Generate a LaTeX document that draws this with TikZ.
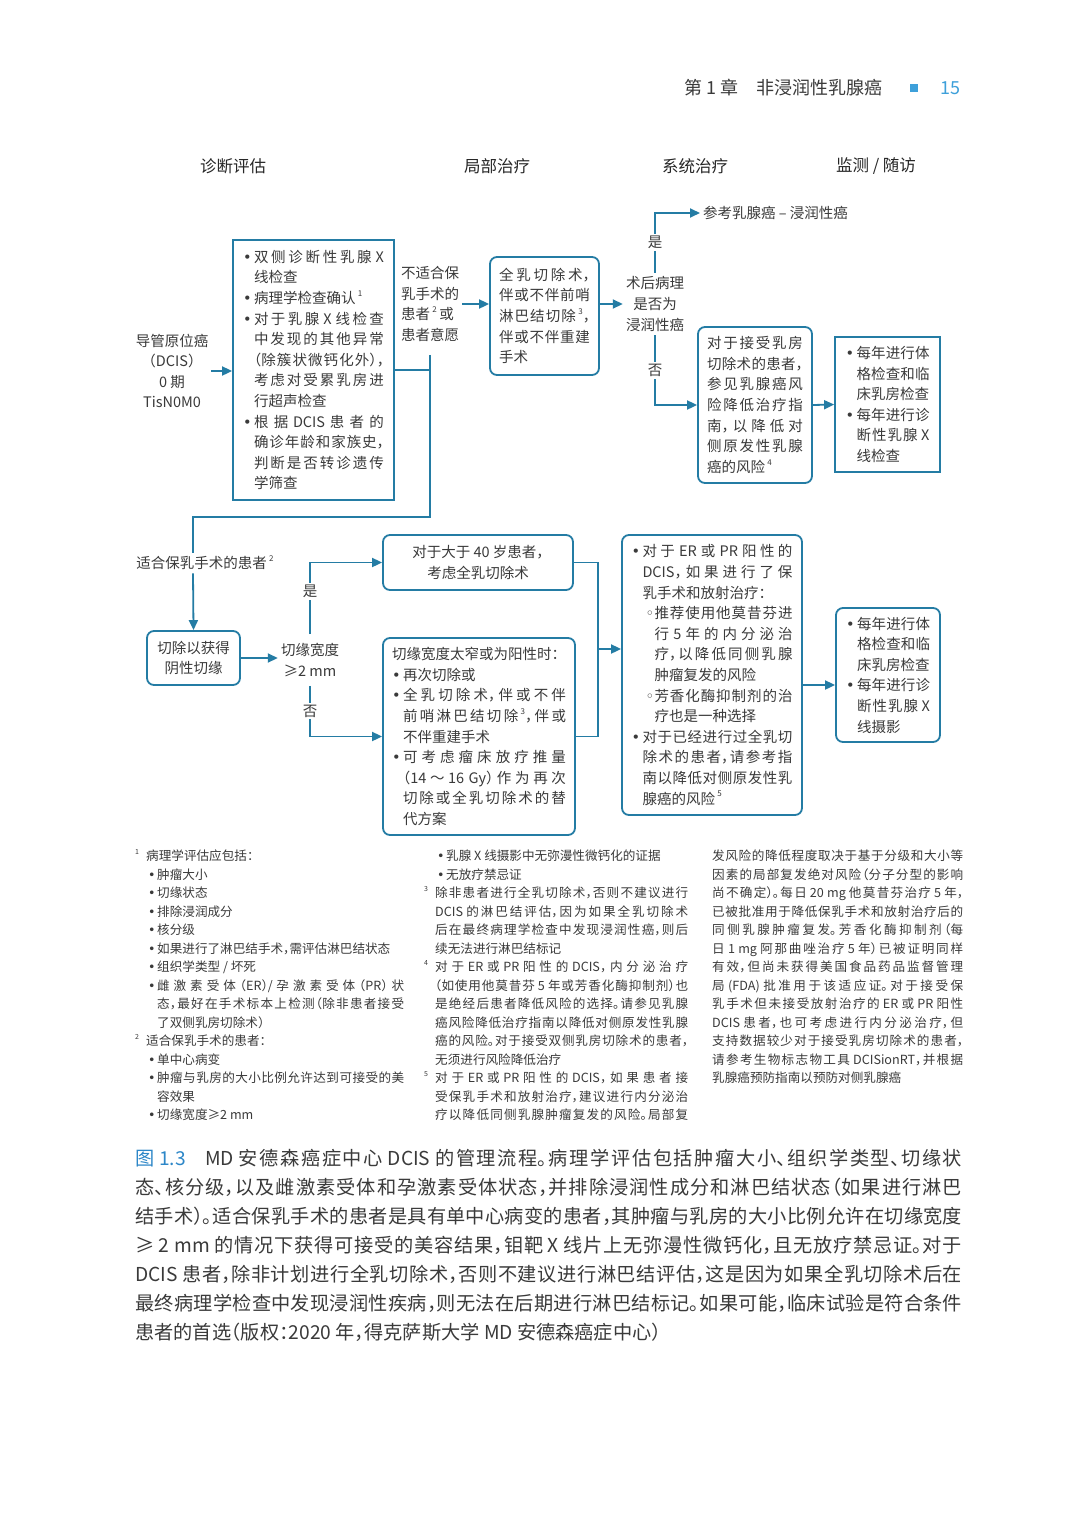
\documentclass[tikz,border=0pt]{standalone}
\usepackage{fontspec}
\setmainfont{Noto Sans CJK SC}[RawFeature={+halt}]
\newfontfamily\symf{DejaVu Sans}
\usepackage{tikz}
\usetikzlibrary{arrows.meta}
\definecolor{flowblue}{RGB}{36,124,164}
\definecolor{pageblue}{RGB}{62,160,218}
\definecolor{capblue}{RGB}{45,135,200}
\definecolor{inkgray}{RGB}{58,58,58}
\XeTeXlinebreaklocale "zh"
\XeTeXlinebreakskip=0pt plus 6pt minus 1pt
\XeTeXlinebreakpenalty=10000
\newcommand\hdrfs{\fontsize{18pt}{22pt}\selectfont}
\newcommand\colfs{\fontsize{16.5pt}{20pt}\selectfont}
\newcommand\boxfs{\fontsize{14.5pt}{20.6pt}\selectfont}
\newcommand\notefs{\fontsize{12.6pt}{18.5pt}\selectfont}
\newcommand\capfs{\fontsize{19.2pt}{29pt}\selectfont}
\newcommand\jbr{\linebreak}
\newcommand\fnm[1]{\,\raisebox{0.5em}{\fontsize{8pt}{8pt}\selectfont #1}}
\newcommand\bulhead{\hangindent=11pt\hangafter=1\makebox[11pt][l]{\symf •}}
\newcommand\bul{\par\noindent\bulhead}
\newcommand\subbul{\par\noindent\hangindent=23pt\hangafter=1\hspace*{14pt}\makebox[9pt][l]{\symf ◦}}
\newcommand\fnumhead[1]{\hangindent=11pt\hangafter=1\makebox[11pt][l]{\raisebox{0.5em}{\fontsize{7pt}{7pt}\selectfont #1}}}
\newcommand\fnum[1]{\par\noindent\fnumhead{#1}}
\newcommand\fbulhead{\hangindent=22pt\hangafter=1\hspace*{13pt}\makebox[9pt][l]{\symf •}}
\newcommand\fbul{\par\noindent\fbulhead}

\begin{document}
\begin{tikzpicture}[x=1pt, y=-1pt, >={Triangle[length=10pt,width=9pt]},
  every node/.style={text=inkgray},
  conn/.style={draw=flowblue, line width=1.8pt},
  arr/.style={conn, ->},
  flowtxt/.style={font=\boxfs, inner sep=3pt, align=center},
  sqbox/.style={draw=flowblue, line width=1.8pt, font=\boxfs, inner sep=0pt, align=justify},
  rdbox/.style={sqbox, rounded corners=7pt},
  yn/.style={font=\boxfs, fill=white, inner sep=2pt},
  notetxt/.style={font=\notefs, inner sep=0pt, align=justify, anchor=base west},
  colhead/.style={font=\colfs, text=black!85}]
\fill[white] (0,0) rectangle (1080,1518);
\useasboundingbox (0,0) rectangle (1080,1518);

\node[font=\hdrfs, anchor=west] (chap) at (681,88) {第 1 章\hspace{1em}非浸润性乳腺癌};
\node[fill=pageblue, minimum size=8pt, inner sep=0pt] (pgmark) at (914,88) {};
\node[font=\hdrfs, text=pageblue, anchor=west] (pgnum) at (937,88) {15};

\foreach \cx/\ct [count=\i] in {233/诊断评估, 497/局部治疗, 695/系统治疗, 876/{监测 / 随访}}
  \node[colhead] (head\i) at (\cx,166) {\ct};

\node[flowtxt] (dcis) at (172,371) {导管原位癌\\（DCIS）\\0 期\\TisN0M0};
\node[sqbox, minimum width=161pt, minimum height=260pt, text width=141pt] (workup) at (313.5,370) {\bulhead 双侧诊断性乳腺 X\jbr 线检查
\bul 病理学检查确认\fnm{1}
\bul 对于乳腺 X 线检查\jbr 中发现的其他异常\jbr （除簇状微钙化外），\jbr 考虑对受累乳房进\jbr 行超声检查
\bul 根据 DCIS 患者的\jbr 确诊年龄和家族史，\jbr 判断是否转诊遗传\jbr 学筛查\par};
\node[flowtxt, align=left] (unfit) at (430,304) {不适合保\\乳手术的\\患者\fnm{2}\,或\\患者意愿};
\node[rdbox, minimum width=109pt, minimum height=118pt, text width=91pt] (mast) at (544.5,316) {全乳切除术，\jbr 伴或不伴前哨\jbr 淋巴结切除\fnm{3}，\jbr 伴或不伴重建\jbr 手术\par};
\node[flowtxt, inner ysep=4pt] (inv) at (655,304) {术后病理\\是否为\\浸润性癌};
\node[flowtxt, anchor=west] (invref) at (700,213) {参考乳腺癌 – 浸润性癌};
\node[rdbox, minimum width=114pt, minimum height=156pt, text width=96pt] (riskred) at (755,405) {对于接受乳房\jbr 切除术的患者，\jbr 参见乳腺癌风\jbr 险降低治疗指\jbr 南，以降低对\jbr 侧原发性乳腺\jbr 癌的风险\fnm{4}\par};
\node[sqbox, minimum width=105pt, minimum height=135pt, text width=84pt] (follow) at (887.5,404.5) {\bulhead 每年进行体\jbr 格检查和临\jbr 床乳房检查
\bul 每年进行诊\jbr 断性乳腺 X\jbr 线检查\par};

\node[flowtxt] (fitlbl) at (205,563) {适合保乳手术的患者\fnm{2}};
\node[rdbox, align=center, minimum width=93pt, minimum height=54pt] (excise) at (193.5,658) {切除以获得\\阴性切缘};
\node[flowtxt, inner ysep=9pt] (margin) at (310,660) {切缘宽度\\≥2 mm};
\node[rdbox, align=center, minimum width=190pt, minimum height=55pt] (over40) at (478,562.5) {对于大于 40 岁患者，\\考虑全乳切除术};
\node[rdbox, minimum width=192pt, minimum height=197pt, text width=174pt] (reexc) at (479,736.5) {切缘宽度太窄或为阳性时：
\bul 再次切除或
\bul 全乳切除术，伴或不伴\jbr 前哨淋巴结切除\fnm{3}，伴或\jbr 不伴重建手术
\bul 可考虑瘤床放疗推量\jbr （14～16 Gy）作为再次\jbr 切除或全乳切除术的替\jbr 代方案\par};
\node[rdbox, minimum width=180pt, minimum height=280pt, text width=161pt] (endo) at (712,675) {\bulhead 对于 ER 或 PR 阳性的\jbr DCIS，如果进行了保\jbr 乳手术和放射治疗：
\subbul 推荐使用他莫昔芬进\jbr 行 5 年的内分泌治\jbr 疗，以降低同侧乳腺\jbr 肿瘤复发的风险
\subbul 芳香化酶抑制剂的治\jbr 疗也是一种选择
\bul 对于已经进行过全乳切\jbr 除术的患者，请参考指\jbr 南以降低对侧原发性乳\jbr 腺癌的风险\fnm{5}\par};
\node[rdbox, minimum width=104pt, minimum height=134pt, text width=84pt] (follow2) at (888,675) {\bulhead 每年进行体\jbr 格检查和临\jbr 床乳房检查
\bul 每年进行诊\jbr 断性乳腺 X\jbr 线摄影\par};

\coordinate (turnr) at (430,517);
\coordinate (turnl) at (193,517);
\coordinate (merge) at (598,649);
\draw[arr] (dcis.east) -- (dcis.east -| workup.west);
\draw[conn] (workup.east) -- (workup.east -| unfit.south);
\draw[conn, shorten <=10pt] (unfit.south) -- (turnr) -- (turnl) -- (turnl |- fitlbl.north);
\draw[arr] (fitlbl.south -| turnl) -- (excise.north);
\draw[arr] (unfit.east) -- (unfit.east -| mast.west);
\draw[arr] (mast.east |- inv.west) -- (inv.west);
\draw[arr] (inv.north) -- node[yn]{是} (inv.north |- invref.west) -- (invref.west);
\draw[arr] (inv.south) -- node[yn]{否} (inv.south |- riskred.west) -- (riskred.west);
\draw[arr] (riskred.east) -- (follow.west);
\draw[arr] (excise.east) -- (excise.east -| margin.west);
\draw[arr] (margin.north) -- node[yn, pos=0.6]{是} (margin.north |- over40.west) -- (over40.west);
\draw[arr] (margin.south) -- node[yn]{否} (margin.south |- reexc.west) -- (reexc.west);
\draw[conn] (over40.east) -| (merge) |- (reexc.east);
\draw[arr] (merge) -- (merge -| endo.west);
\draw[arr] ([yshift=-10pt]endo.east) -- ([yshift=-10pt]follow2.west);

\node[notetxt, text width=269pt] (notes1) at (135,860.5) {\fnumhead{1}病理学评估应包括：
\fbul 肿瘤大小
\fbul 切缘状态
\fbul 排除浸润成分
\fbul 核分级
\fbul 如果进行了淋巴结手术，需评估淋巴结状态
\fbul 组织学类型 / 坏死
\fbul 雌激素受体（ER）/ 孕激素受体（PR）状\jbr 态，最好在手术标本上检测（除非患者接受\jbr 了双侧乳房切除术）
\fnum{2}适合保乳手术的患者：
\fbul 单中心病变
\fbul 肿瘤与乳房的大小比例允许达到可接受的美\jbr 容效果
\fbul 切缘宽度≥2 mm\par};
\node[notetxt, text width=264pt] (notes2) at (424,860.5) {\fbulhead 乳腺 X 线摄影中无弥漫性微钙化的证据
\fbul 无放疗禁忌证
\fnum{3}除非患者进行全乳切除术，否则不建议进行\jbr DCIS 的淋巴结评估，因为如果全乳切除术\jbr 后在最终病理学检查中发现浸润性癌，则后\jbr 续无法进行淋巴结标记
\fnum{4}对于 ER 或 PR 阳性的 DCIS，内分泌治疗\jbr （如使用他莫昔芬 5 年或芳香化酶抑制剂）也\jbr 是绝经后患者降低风险的选择。请参见乳腺\jbr 癌风险降低治疗指南以降低对侧原发性乳腺\jbr 癌的风险。对于接受双侧乳房切除术的患者，\jbr 无须进行风险降低治疗
\fnum{5}对于 ER 或 PR 阳性的 DCIS，如果患者接\jbr 受保乳手术和放射治疗，建议进行内分泌治\jbr 疗以降低同侧乳腺肿瘤复发的风险。局部复\parfillskip=0pt\par};
\node[notetxt, text width=251pt] (notes3) at (712,860.5) {发风险的降低程度取决于基于分级和大小等\jbr 因素的局部复发绝对风险（分子分型的影响\jbr 尚不确定）。每日 20 mg 他莫昔芬治疗 5 年，\jbr 已被批准用于降低保乳手术和放射治疗后的\jbr 同侧乳腺肿瘤复发。芳香化酶抑制剂（每\jbr 日 1 mg 阿那曲唑治疗 5 年）已被证明同样\jbr 有效，但尚未获得美国食品药品监督管理\jbr 局 (FDA) 批准用于该适应证。对于接受保\jbr 乳手术但未接受放射治疗的 ER 或 PR 阳性\jbr DCIS 患者，也可考虑进行内分泌治疗，但\jbr 支持数据较少对于接受乳房切除术的患者，\jbr 请参考生物标志物工具 DCISionRT，并根据\jbr 乳腺癌预防指南以预防对侧乳腺癌};

\node[notetxt, font=\capfs, text width=827pt] (caption) at (135,1165.3) {{\color{capblue}图 1.3}\hspace{1em}MD 安德森癌症中心 DCIS 的管理流程。病理学评估包括肿瘤大小、组织学类型、切缘状\jbr
态、核分级，以及雌激素受体和孕激素受体状态，并排除浸润性成分和淋巴结状态（如果进行淋巴\jbr
结手术）。适合保乳手术的患者是具有单中心病变的患者，其肿瘤与乳房的大小比例允许在切缘宽度\jbr
≥ 2 mm 的情况下获得可接受的美容结果，钼靶 X 线片上无弥漫性微钙化，且无放疗禁忌证。对于\jbr
DCIS 患者，除非计划进行全乳切除术，否则不建议进行淋巴结评估，这是因为如果全乳切除术后在\jbr
最终病理学检查中发现浸润性疾病，则无法在后期进行淋巴结标记。如果可能，临床试验是符合条件\jbr
患者的首选（版权：2020 年，得克萨斯大学 MD 安德森癌症中心）};
\end{tikzpicture}
\end{document}
